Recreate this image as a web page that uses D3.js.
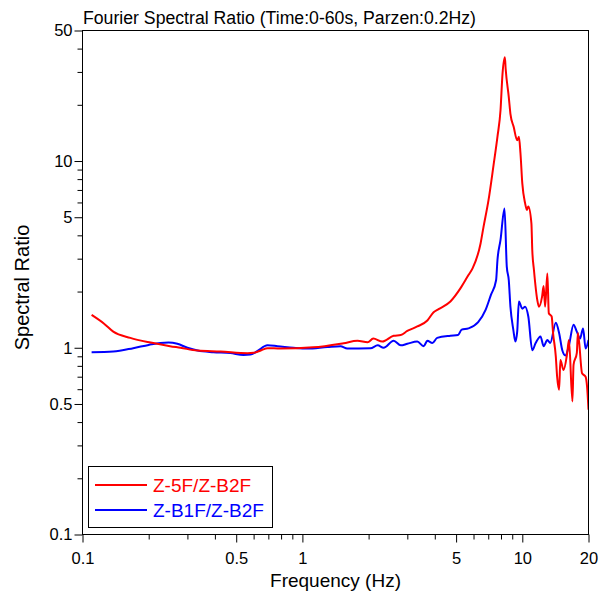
<!DOCTYPE html>
<html>
<head>
<meta charset="utf-8">
<script src="https://cdn.jsdelivr.net/npm/d3@7"></script>
<style>
  html, body { margin: 0; padding: 0; background: #fff; }
  svg { display: block; font-family: "Liberation Sans", Arial, sans-serif; }
</style>
</head>
<body>
<svg id="chart" width="599" height="595"></svg>
<script>
// ---- data ----
const titleText = "Fourier Spectral Ratio (Time:0-60s, Parzen:0.2Hz)";
const xLabel = "Frequency (Hz)";
const yLabel = "Spectral Ratio";
const seriesNames = ["Z-5F/Z-B2F", "Z-B1F/Z-B2F"];
const seriesColors = ["#ff0000", "#0000ff"];

const xMajorTicks = [0.1, 0.5, 1, 5, 10, 20];
const xTickLabels = ["0.1", "0.5", "1", "5", "10", "20"];
const xMinorTicks = [0.2, 0.3, 0.4, 0.6, 0.7, 0.8, 0.9, 2, 3, 4, 6, 7, 8, 9];
const yMajorTicks = [0.1, 0.5, 1, 5, 10, 50];
const yTickLabels = ["0.1", "0.5", "1", "5", "10", "50"];
const yMinorTicks = [0.2, 0.3, 0.4, 0.6, 0.7, 0.8, 0.9, 2, 3, 4, 6, 7, 8, 9, 20, 30, 40];

const redFreq = [0.11, 0.125, 0.138, 0.165, 0.204, 0.25, 0.279, 0.334, 0.425, 0.563, 0.6, 0.65, 0.694, 0.795,
  1.12, 1.54, 1.78, 1.98, 2.1, 2.31, 2.6, 2.8, 3.0, 3.33, 3.7, 3.95, 4.16, 4.71, 5.23, 5.69, 5.94, 6.46, 6.66,
  7.02, 7.4, 7.71, 7.96, 8.13, 8.33, 8.4, 8.68, 8.83, 9.14, 9.48, 9.65, 9.81, 10.0, 10.3, 10.5, 10.65, 11.0,
  11.1, 11.3, 11.7, 11.9, 12.3, 12.5, 12.7, 13.0, 13.2, 13.6, 13.8, 14.2, 14.4, 14.7, 14.9, 15.4, 16.0, 16.3,
  16.9, 17.1, 17.7, 17.9, 18.7, 19.4, 19.7, 20];
const redRatio = [1.50, 1.35, 1.22, 1.13, 1.066, 1.02, 1.00, 0.966, 0.955, 0.936, 0.94, 0.97, 0.995, 0.99,
  1.005, 1.058, 1.09, 1.07, 1.12, 1.08, 1.16, 1.17, 1.23, 1.30, 1.40, 1.55, 1.61, 1.77, 2.08, 2.45, 2.66, 3.62, 4.43,
  6.17, 9.5, 13.5, 18.7, 29.4, 36, 31.2, 22, 17.9, 15.2, 12.9, 13.5, 11, 7.59, 5.93, 5.46, 5.7, 4.64,
  3.34, 2.6, 1.80, 1.66, 1.88, 2.14, 1.66, 2.5, 1.53, 1.47, 1.2, 0.90, 0.70, 0.596, 0.86, 0.76, 0.936, 1.10,
  0.516, 0.81, 0.94, 1.2, 0.73, 0.70, 0.62, 0.466];

const blueFreq = [0.11, 0.138, 0.17, 0.2, 0.226, 0.246, 0.27, 0.3, 0.334, 0.394, 0.47, 0.54, 0.58, 0.62, 0.694,
  0.77, 0.91, 1.05, 1.3, 1.49, 1.6, 2.04, 2.2, 2.34, 2.6, 2.8, 3.0, 3.33, 3.56, 3.7, 3.9, 4.1, 4.71, 5.1, 5.3,
  5.69, 6.3, 6.8, 7.2, 7.6, 7.71, 7.96, 8.3, 8.5, 8.68, 8.83, 9.1, 9.3, 9.48, 9.65, 10.0, 10.3, 10.65, 11.1,
  11.5, 12.1, 12.5, 13.0, 13.4, 14.2, 14.7, 15.2, 15.7, 16.3, 17.1, 17.7, 18.3, 18.9, 19.4, 20];
const blueRatio = [0.947, 0.955, 0.995, 1.036, 1.062, 1.066, 1.05, 1.0, 0.966, 0.947, 0.936, 0.915, 0.92, 0.955, 1.03,
  1.02, 1.0, 0.99, 1.01, 1.02, 0.99, 0.995, 1.03, 1.0, 1.09, 1.03, 1.05, 1.08, 1.02, 1.09, 1.06, 1.13, 1.16, 1.17, 1.25,
  1.27, 1.37, 1.59, 1.92, 2.3, 2.95, 3.78, 5.57, 2.72, 2.3, 1.66, 1.25, 1.08, 1.22, 1.77, 1.62, 1.66, 1.47, 0.97,
  1.06, 1.15, 1.02, 1.1, 1.06, 1.36, 1.2, 0.97, 0.91, 1.03, 1.33, 1.22, 1.12, 1.27, 0.99, 1.1];

// ---- layout ----
const svg = d3.select("#chart");
const L = 82.5, R = 588.5, T = 30.5, B = 534.5;

const x = d3.scaleLog().domain([0.1, 20]).range([L, R]);
const y = d3.scaleLog().domain([0.1, 50]).range([B, T]);

const tickFont = 16.5;

// minor ticks
svg.append("g").attr("transform", `translate(0,${B})`)
  .call(d3.axisBottom(x).tickValues(xMinorTicks).tickSize(5).tickSizeOuter(0).tickFormat(""))
  .call(g => g.select(".domain").remove());
svg.append("g").attr("transform", `translate(${L},0)`)
  .call(d3.axisLeft(y).tickValues(yMinorTicks).tickSize(5).tickSizeOuter(0).tickFormat(""))
  .call(g => g.select(".domain").remove());

// major ticks
const xAxis = svg.append("g").attr("transform", `translate(0,${B})`)
  .call(d3.axisBottom(x).tickValues(xMajorTicks).tickSize(8).tickSizeOuter(0).tickPadding(10)
    .tickFormat((d, i) => xTickLabels[i]));
xAxis.select(".domain").remove();
xAxis.selectAll("text").attr("font-size", tickFont).attr("fill", "#000")
  .attr("font-family", '"Liberation Sans", Arial, sans-serif');

const yAxis = svg.append("g").attr("transform", `translate(${L},0)`)
  .call(d3.axisLeft(y).tickValues(yMajorTicks).tickSize(8).tickSizeOuter(0).tickPadding(2)
    .tickFormat((d, i) => yTickLabels[i]));
yAxis.select(".domain").remove();
yAxis.selectAll("text").attr("font-size", tickFont).attr("fill", "#000")
  .attr("font-family", '"Liberation Sans", Arial, sans-serif');

svg.selectAll(".tick line").attr("stroke", "#000");

// curves (clipped to plot)
svg.append("clipPath").attr("id", "clip")
  .append("rect").attr("x", L).attr("y", T).attr("width", R - L).attr("height", B - T);

const mk = d3.line().x(d => x(d[0])).y(d => y(d[1])).curve(d3.curveMonotoneX);

const redData = redFreq.map((f, i) => [f, redRatio[i]]);
const blueData = blueFreq.map((f, i) => [f, blueRatio[i]]);

const plot = svg.append("g").attr("clip-path", "url(#clip)");
plot.append("path").datum(blueData).attr("d", mk)
  .attr("fill", "none").attr("stroke", seriesColors[1]).attr("stroke-width", 2).attr("stroke-linejoin", "round");
plot.append("path").datum(redData).attr("d", mk)
  .attr("fill", "none").attr("stroke", seriesColors[0]).attr("stroke-width", 2).attr("stroke-linejoin", "round");

// frame
svg.append("rect").attr("x", L).attr("y", T).attr("width", R - L).attr("height", B - T)
  .attr("fill", "none").attr("stroke", "#000").attr("stroke-width", 1);

// title & axis labels
svg.append("text").attr("x", 83).attr("y", 24).attr("font-size", 18).attr("fill", "#000")
  .attr("textLength", 393).attr("lengthAdjust", "spacingAndGlyphs")
  .text(titleText);
svg.append("text").attr("x", (L + R) / 2).attr("y", 587).attr("text-anchor", "middle")
  .attr("font-size", 19).attr("fill", "#000").text(xLabel);
svg.append("text").attr("transform", `translate(29,${(T + B) / 2 + 5}) rotate(-90)`)
  .attr("text-anchor", "middle").attr("font-size", 20).attr("fill", "#000").text(yLabel);

// legend
const lg = svg.append("g");
lg.append("rect").attr("x", 88.5).attr("y", 466.5).attr("width", 184).attr("height", 61)
  .attr("fill", "#fff").attr("stroke", "#000").attr("stroke-width", 1);
seriesNames.forEach((name, i) => {
  const yy = 485 + i * 25;
  lg.append("line").attr("x1", 95).attr("x2", 147).attr("y1", yy).attr("y2", yy)
    .attr("stroke", seriesColors[i]).attr("stroke-width", 2);
  lg.append("text").attr("x", 153).attr("y", yy + 7).attr("font-size", 19)
    .attr("fill", seriesColors[i]).text(name);
});
</script>
</body>
</html>
